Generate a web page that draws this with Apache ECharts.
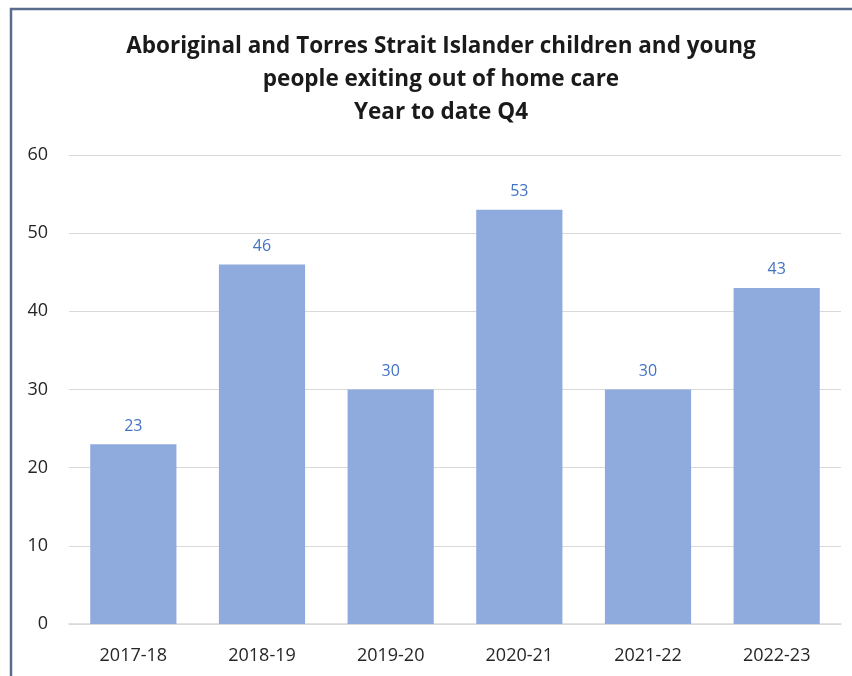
<!DOCTYPE html>
<html>
<head>
<meta charset="utf-8">
<script src="https://cdn.jsdelivr.net/npm/echarts@6/dist/echarts.min.js"></script>
<style>
  html, body { margin: 0; padding: 0; background: #fff; }
  #chart { width: 852px; height: 676px; }
</style>
</head>
<body>
<div id="chart"></div>
<script>
const years = ["2017-18", "2018-19", "2019-20", "2020-21", "2021-22", "2022-23"];
const exits = [23, 46, 30, 53, 30, 43];
const titleLines = [
  "Aboriginal and Torres Strait Islander children and young",
  "people exiting out of home care",
  "Year to date Q4"
];

const font = "'Open Sans', 'Noto Sans', sans-serif";
const chart = echarts.init(document.getElementById("chart"));

chart.setOption({
  animation: false,
  title: {
    text: titleLines.join("\n"),
    left: 436,
    top: 25,
    textAlign: "center",
    textStyle: {
      fontFamily: font,
      fontSize: 22.5,
      fontWeight: "bold",
      color: "#1a1a1a",
      lineHeight: 33
    }
  },
  graphic: [{
    type: "polyline",
    shape: { points: [[11, 700], [11, 9], [860, 9]] },
    style: { stroke: "#5b6b8c", lineWidth: 2.5, fill: null }
  }],
  grid: { left: 69, right: 11, top: 155, bottom: 52, containLabel: false },
  xAxis: {
    type: "category",
    data: years,
    axisTick: { show: false },
    axisLine: { lineStyle: { color: "#d9d9d9", width: 1.5 } },
    axisLabel: { fontFamily: font, fontSize: 18, color: "#262626", margin: 23 }
  },
  yAxis: {
    type: "value",
    min: 0,
    max: 60,
    interval: 10,
    axisLine: { show: false },
    axisTick: { show: false },
    splitLine: { lineStyle: { color: "#d9d9d9", width: 1 } },
    axisLabel: { fontFamily: font, fontSize: 18, color: "#262626", margin: 21 }
  },
  series: [{
    type: "bar",
    data: exits,
    barWidth: "67%",
    itemStyle: { color: "#8faadc" },
    label: {
      show: true,
      position: "top",
      distance: 10,
      fontFamily: font,
      fontSize: 16,
      color: "#4472c4"
    }
  }]
});
</script>
</body>
</html>
